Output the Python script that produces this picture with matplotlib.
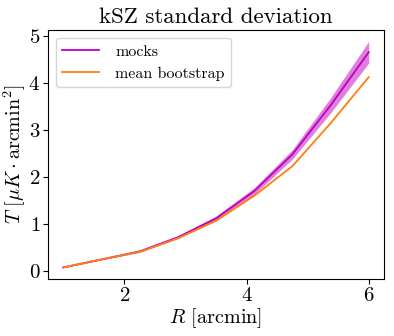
import numpy as np
import matplotlib
matplotlib.use("Agg")
import matplotlib.pyplot as plt

plt.rcParams["font.family"] = "serif"
plt.rcParams["font.serif"] = ["cmr10"]
plt.rcParams["mathtext.fontset"] = "cm"
plt.rcParams["axes.formatter.use_mathtext"] = True

radius = [1.0, 1.625, 2.25, 2.875, 3.5, 4.125, 4.75, 5.375, 6.0]
mocks_mean = [0.08, 0.25, 0.42, 0.72, 1.12, 1.70, 2.48, 3.52, 4.65]
mocks_err = [0.005, 0.01, 0.02, 0.03, 0.05, 0.07, 0.10, 0.16, 0.23]
bootstrap_mean = [0.08, 0.25, 0.41, 0.70, 1.07, 1.60, 2.23, 3.14, 4.12]

mocks_mean = np.array(mocks_mean)
mocks_err = np.array(mocks_err)

fig = plt.figure(figsize=(3.94, 3.36), dpi=100)
ax = fig.add_axes([48 / 394, 57 / 336, 336 / 394, 249 / 336])

ax.plot(radius, mocks_mean, color="m", lw=1.3, label="mocks")
ax.fill_between(
    radius,
    mocks_mean - mocks_err,
    mocks_mean + mocks_err,
    color="m",
    alpha=0.5,
    lw=0
)
ax.plot(radius, bootstrap_mean, color="C1", lw=1.3, label="mean bootstrap")

ax.set_title("kSZ standard deviation", fontsize=16.5, pad=5)
ax.set_xlabel(r"$R$ [arcmin]", fontsize=14.5, labelpad=1)
ax.set_ylabel(r"$T\ [\mu K \cdot \mathrm{arcmin}^2]$", fontsize=14.5)
ax.yaxis.set_label_coords(-20 / 336, 0.5)
ax.set_xticks([2, 4, 6])
ax.set_yticks([0, 1, 2, 3, 4, 5])
ax.tick_params(labelsize=15, pad=2)
ax.legend(loc="upper left", fontsize=11.5, handlelength=2.3, handletextpad=1.0)

fig.savefig("out.png", dpi=100)
